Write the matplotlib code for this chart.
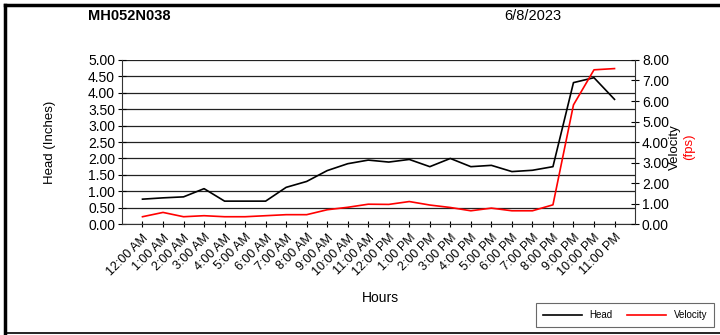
import matplotlib.pyplot as plt
from matplotlib.lines import Line2D

plt.rcParams['font.family'] = ['Liberation Sans', 'DejaVu Sans']

# Data
hours = ['12:00 AM', '1:00 AM', '2:00 AM', '3:00 AM', '4:00 AM', '5:00 AM',
         '6:00 AM', '7:00 AM', '8:00 AM', '9:00 AM', '10:00 AM', '11:00 AM',
         '12:00 PM', '1:00 PM', '2:00 PM', '3:00 PM', '4:00 PM', '5:00 PM',
         '6:00 PM', '7:00 PM', '8:00 PM', '9:00 PM', '10:00 PM', '11:00 PM']
head = [0.76, 0.80, 0.83, 1.08, 0.70, 0.70, 0.70, 1.12, 1.30, 1.63, 1.84, 1.95,
        1.89, 1.97, 1.75, 2.00, 1.75, 1.79, 1.60, 1.64, 1.75, 4.31, 4.46, 3.80]
velocity = [0.36, 0.57, 0.36, 0.41, 0.36, 0.36, 0.41, 0.46, 0.46, 0.70, 0.82, 0.97,
            0.96, 1.10, 0.93, 0.81, 0.65, 0.78, 0.65, 0.65, 0.94, 5.81, 7.52, 7.58]
head_ticks = [0, 0.5, 1, 1.5, 2, 2.5, 3, 3.5, 4, 4.5, 5]
vel_ticks = [0, 1, 2, 3, 4, 5, 6, 7, 8]

fig = plt.figure(figsize=(7.2, 3.35), dpi=100)
ax = fig.add_axes([0.1694, 0.331, 0.7126, 0.49])
x = list(range(len(hours)))

# horizontal gridlines
for t in head_ticks:
    ax.axhline(t, color='#222222', lw=0.9, zorder=1)

ax.plot(x, head, color='black', lw=1.2, zorder=3)
ax.set_xlim(-1, len(hours))
ax.set_ylim(0, 5)
ax.set_yticks(head_ticks)
ax.set_yticklabels([f'{t:.2f}' for t in head_ticks], fontsize=10)
ax.set_xticks(x)
ax.set_xticklabels(hours, rotation=45, ha='right', rotation_mode='anchor', fontsize=9)
ax.tick_params(axis='y', direction='inout', length=6, width=0.8, pad=2)
ax.tick_params(axis='x', direction='inout', length=5, width=0.8, pad=3)
ax.spines['top'].set_visible(False)
ax.spines['right'].set_visible(False)
for s in ('left', 'bottom'):
    ax.spines[s].set_color('#333333')

ax2 = ax.twinx()
ax2.plot(x, velocity, color='red', lw=1.2, zorder=3)
ax2.set_ylim(0, 8)
ax2.set_yticks(vel_ticks)
ax2.set_yticklabels([f'{t:.2f}' for t in vel_ticks], fontsize=10)
ax2.tick_params(axis='y', direction='inout', length=6, width=0.8, pad=2)
for s in ('top', 'left', 'bottom'):
    ax2.spines[s].set_visible(False)
ax2.spines['right'].set_color('#333333')

# axis labels
fig.text(50 / 720, 1 - 142 / 335, 'Head (Inches)', rotation=90, fontsize=9.5,
         ha='center', va='center')
fig.text(380 / 720, 1 - 298 / 335, 'Hours', fontsize=10, ha='center', va='center')
fig.text(675 / 720, 1 - 147 / 335, 'Velocity', rotation=90, fontsize=9.5,
         ha='center', va='center', color='black')
fig.text(689 / 720, 1 - 147 / 335, '(fps)', rotation=90, fontsize=9.5,
         ha='center', va='center', color='red')

# titles
fig.text(88 / 720, 1 - 16 / 335, 'MH052N038', fontsize=10.5, fontweight='bold',
         ha='left', va='center')
fig.text(533 / 720, 1 - 16 / 335, '6/8/2023', fontsize=10.5, ha='center', va='center')

# legend
handles = [Line2D([], [], color='black', lw=1.2), Line2D([], [], color='red', lw=1.2)]
leg = fig.legend(handles, ['Head', 'Velocity'], loc='center',
                 bbox_to_anchor=(625 / 720, 1 - 315 / 335), ncol=2, fontsize=7,
                 frameon=True, fancybox=False, edgecolor='#444444',
                 handlelength=4, columnspacing=1.5, borderpad=0.7)
leg.get_frame().set_linewidth(0.8)

# outer frame lines
fig.add_artist(Line2D([5 / 720, 1], [1 - 5 / 335, 1 - 5 / 335], color='black', lw=2.5,
                      transform=fig.transFigure))
fig.add_artist(Line2D([5 / 720, 5 / 720], [1 - 5 / 335, 1 - 333 / 335], color='black', lw=2.5,
                      transform=fig.transFigure))
fig.add_artist(Line2D([5 / 720, 1], [1 - 333 / 335, 1 - 333 / 335], color='black', lw=1.2,
                      transform=fig.transFigure))

fig.savefig('out.png', dpi=100)
